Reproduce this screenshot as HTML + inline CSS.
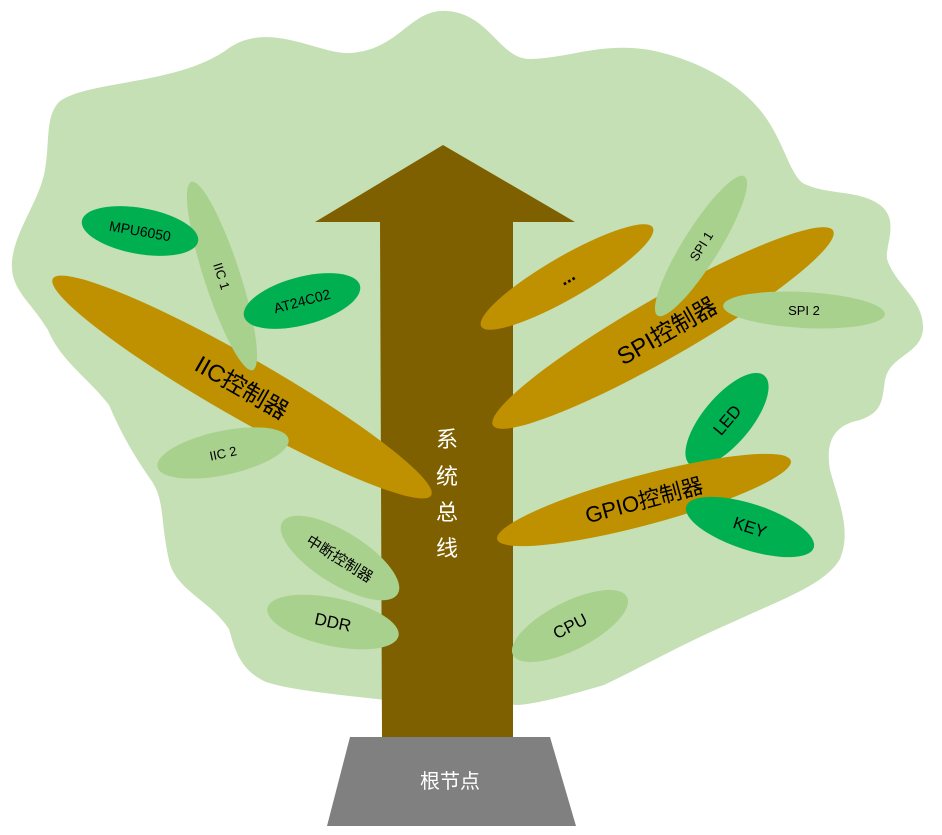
<!DOCTYPE html>
<html><head><meta charset="utf-8"><style>
html,body{margin:0;padding:0;background:#fff;}
svg{display:block;}
text{font-family:"Liberation Sans","Noto Sans CJK SC",sans-serif;}
</style></head><body>
<svg width="942" height="835" viewBox="0 0 942 835" xmlns="http://www.w3.org/2000/svg">
<path fill="#c5e0b4" d="M60,101 C90,80 180,85 229,48 C270,20 320,55 350,53 C400,50 410,8 447,11 C490,14 500,60 531,59 C570,58 600,42 650,50 C700,60 740,85 760,110 C785,140 790,180 807,185 C830,195 860,190 880,205 C900,220 885,245 887,259 C895,285 925,300 923,330 C920,355 890,355 885,380 C882,400 883,412 860,420 C835,425 825,440 830,470 C838,500 852,530 840,559 C825,585 780,600 733,622 C680,645 640,668 604,685 C570,695 540,703 519,705 L386,700 C340,695 290,690 266,682 C240,670 235,650 229,629 C210,600 175,590 169,560 C160,520 165,500 151,480 C130,450 120,430 109,405 C90,380 60,360 48,330 C30,300 10,290 12,261 C15,230 40,200 45,170 C50,140 45,115 60,101 Z"/>
<path fill="#7f6000" d="M443,145 L575,222 L513,222 L513,737 L382,737 L380,222 L315,222 Z"/>
<polygon fill="#808080" points="350,737 550,737 576,826 327,826"/>
<text x="450" y="788" font-size="20" fill="#fff" text-anchor="middle">根节点</text>
<g fill="#fff" font-size="22" text-anchor="middle">
<text x="447" y="447">系</text><text x="447" y="484">统</text><text x="447" y="520">总</text><text x="447" y="556">线</text>
</g>
<ellipse cx="242" cy="387" rx="218" ry="30" fill="#bf9000" transform="rotate(29.8 242 387)"/>
<ellipse cx="222" cy="276" rx="99" ry="18" fill="#a9d18e" transform="rotate(72 222 276)"/>
<text x="222" y="281" font-size="13" text-anchor="middle" transform="rotate(72 222 276)">IIC 1</text>
<ellipse cx="140" cy="231" rx="59" ry="23" fill="#00b050" transform="rotate(10 140 231)"/>
<text x="140" y="236" font-size="14" text-anchor="middle" transform="rotate(10 140 231)">MPU6050</text>
<ellipse cx="302" cy="301" rx="60" ry="24" fill="#00b050" transform="rotate(-15 302 301)"/>
<text x="302" y="306" font-size="14" text-anchor="middle" transform="rotate(-15 302 301)">AT24C02</text>
<text x="242" y="396" font-size="24" text-anchor="middle" transform="rotate(29.8 242 387)">IIC控制器</text>
<ellipse cx="223" cy="453" rx="67" ry="22" fill="#a9d18e" transform="rotate(-12 223 453)"/>
<text x="223" y="458" font-size="13" text-anchor="middle" transform="rotate(-12 223 453)">IIC 2</text>
<ellipse cx="340" cy="558" rx="68" ry="26" fill="#a9d18e" transform="rotate(32 340 558)"/>
<text x="340" y="564" font-size="15" text-anchor="middle" transform="rotate(32 340 558)">中断控制器</text>
<ellipse cx="333" cy="622" rx="67" ry="24" fill="#a9d18e" transform="rotate(12 333 622)"/>
<text x="333" y="628" font-size="17" text-anchor="middle" transform="rotate(12 333 622)">DDR</text>
<ellipse cx="567" cy="277" rx="99" ry="21" fill="#bf9000" transform="rotate(-30 567 277)"/>
<text x="567" y="283" font-size="18" font-weight="bold" text-anchor="middle" transform="rotate(-30 567 277)">...</text>
<ellipse cx="663" cy="328" rx="196" ry="30" fill="#bf9000" transform="rotate(-29.8 663 328)"/>
<ellipse cx="701" cy="246" rx="82" ry="18" fill="#a9d18e" transform="rotate(-58 701 246)"/>
<text x="701" y="251" font-size="13" text-anchor="middle" transform="rotate(-58 701 246)">SPI 1</text>
<text x="665" y="341" font-size="24" text-anchor="middle" transform="rotate(-29.8 663 328)">SPI控制器</text>
<ellipse cx="804" cy="310" rx="81" ry="18" fill="#a9d18e" transform="rotate(3 804 310)"/>
<text x="804" y="315" font-size="13" text-anchor="middle">SPI 2</text>
<ellipse cx="727" cy="420" rx="58" ry="24" fill="#00b050" transform="rotate(-50 727 420)"/>
<text x="727" y="426" font-size="17" text-anchor="middle" transform="rotate(-50 727 420)">LED</text>
<ellipse cx="644" cy="500" rx="152" ry="25" fill="#bf9000" transform="rotate(-15 644 500)"/>
<text x="644" y="508" font-size="22" text-anchor="middle" transform="rotate(-15 644 500)">GPIO控制器</text>
<ellipse cx="750" cy="527" rx="67" ry="23" fill="#00b050" transform="rotate(18 750 527)"/>
<text x="750" y="533" font-size="17" text-anchor="middle" transform="rotate(18 750 527)">KEY</text>
<ellipse cx="570" cy="626" rx="64" ry="24" fill="#a9d18e" transform="rotate(-27 570 626)"/>
<text x="570" y="632" font-size="17" text-anchor="middle" transform="rotate(-27 570 626)">CPU</text>
</svg>
</body></html>
